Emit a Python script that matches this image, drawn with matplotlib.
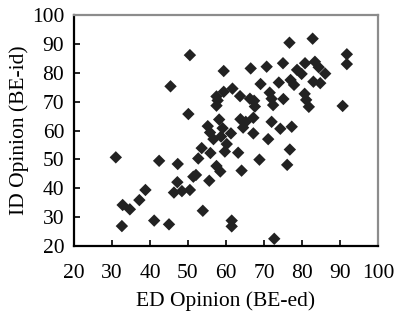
import matplotlib
matplotlib.use("Agg")
import matplotlib.pyplot as plt

ed_opinion = [50.5, 76.7, 82.8, 91.8, 91.8, 59.4, 45.4, 66.5, 70.7, 75.0,
              80.8, 83.4, 84.4, 86.1, 78.7, 79.9, 77.0, 77.9, 83.0, 84.8,
              73.9, 69.1, 61.7, 59.4, 63.7, 71.5, 72.0, 72.4, 75.1, 80.7,
              81.1, 81.8, 90.7, 66.3, 67.4, 67.6, 67.2, 63.8, 65.2, 72.0,
              74.3, 77.3, 57.5, 57.5, 57.8, 50.1, 58.2, 55.2, 59.1, 55.8,
              56.7, 58.7, 61.3, 60.2, 59.7, 53.6, 55.9, 52.7, 47.3, 42.4,
              31.0, 47.2, 46.3, 48.4, 50.5, 38.8, 37.2, 32.8, 34.7, 32.6,
              41.1, 45.0, 53.9, 51.4, 52.1, 55.6, 57.5, 58.5, 61.5, 61.5,
              72.7, 63.2, 67.2, 71.1, 76.8, 76.1, 68.8, 64.1, 64.5]
id_opinion = [86.1, 90.4, 91.8, 86.4, 83.0, 80.6, 75.3, 81.5, 82.1, 83.3,
              83.3, 83.8, 81.9, 79.7, 81.0, 79.6, 77.5, 75.8, 76.9, 76.4,
              76.6, 76.1, 74.5, 73.4, 71.9, 73.1, 71.0, 68.8, 70.9, 72.7,
              70.6, 68.2, 68.5, 71.0, 70.3, 68.3, 64.4, 63.9, 63.0, 63.0,
              60.6, 61.3, 71.8, 68.6, 70.4, 65.7, 63.8, 61.5, 60.8, 59.3,
              57.0, 57.9, 59.0, 55.3, 52.7, 53.9, 52.2, 50.3, 48.4, 49.5,
              50.7, 42.1, 38.5, 39.0, 39.4, 39.4, 35.9, 34.2, 32.7, 26.9,
              28.8, 27.5, 32.2, 44.0, 44.6, 42.6, 47.7, 45.8, 28.8, 26.8,
              22.5, 52.3, 59.0, 57.0, 53.4, 48.1, 49.9, 46.1, 61.0]

x_ticks = [20, 30, 40, 50, 60, 70, 80, 90, 100]
y_ticks = [20, 30, 40, 50, 60, 70, 80, 90, 100]

plt.rcParams['font.family'] = ['Liberation Serif', 'DejaVu Serif']

fig = plt.figure(figsize=(4.0, 3.22), dpi=100)
ax = fig.add_axes([74/400, 1-246/322, (378-74)/400, (246-15)/322])

ax.scatter(ed_opinion, id_opinion, marker='D', s=40, color='#222222',
           edgecolors='none', zorder=3, clip_on=False)

ax.set_xlim(20, 100)
ax.set_ylim(20, 100)
ax.set_xticks(x_ticks)
ax.set_yticks(y_ticks)
ax.tick_params(axis='both', direction='in', length=4, width=1.2,
               labelsize=15.5, color='black')
ax.tick_params(axis='x', pad=13)
ax.tick_params(axis='y', pad=7)

for side in ['left', 'bottom']:
    ax.spines[side].set_color('black')
    ax.spines[side].set_linewidth(1.6)
for side in ['top', 'right']:
    ax.spines[side].set_color('#8c8c8c')
    ax.spines[side].set_linewidth(1.6)

ax.set_xlabel('ED Opinion (BE-ed)', fontsize=15.5, labelpad=6)
ax.set_ylabel('ID Opinion (BE-id)', fontsize=15.5, labelpad=2)

fig.savefig('out.png', dpi=100)
